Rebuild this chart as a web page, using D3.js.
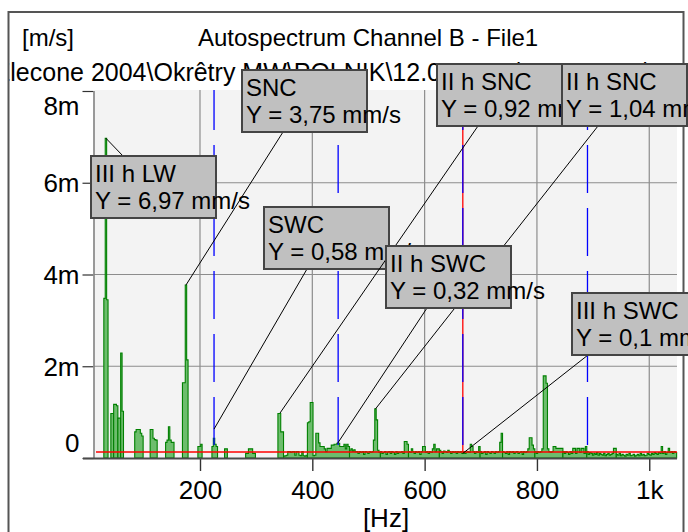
<!DOCTYPE html>
<html>
<head>
<meta charset="utf-8">
<script src="https://cdn.jsdelivr.net/npm/d3@7"></script>
<style>
  body { margin: 0; background: #fff; }
  text { font-family: "Liberation Sans", Arial, sans-serif; fill: #000; }
</style>
</head>
<body>
<div class="container"></div>
<script>
// axis ticks
const yTicks = [0, 2, 4, 6, 8];
const yTickLabels = ['0', '2m', '4m', '6m', '8m'];
const xTicks = [200, 400, 600, 800, 1000];
const xTickLabels = ['200', '400', '600', '800', '1k'];

// spectrum: bands of [start Hz, amplitudes in mm/s on a 2.5 Hz grid]
const binWidth = 2.5;
const bands = [
  [30, [3.48, 6.97, 3.45]],
  [42.5, [0.97, 0.97]],
  [47.5, [1.17, 1.17, 1.14]],
  [55, [0.87, 0.87]],
  [60, [2.29, 1.02]],
  [85, [0.57, 0.62, 0.62, 0.62, 0.54, 0.48]],
  [112.5, [0.62, 0.62, 0.43, 0.4, 0.39]],
  [140, [0.34, 0.39, 0.68, 0.39, 0.34, 0.34]],
  [170, [1.64, 1.64, 3.77, 2.14]],
  [197.5, [0.25, 0.25, 0.3]],
  [222.5, [0.25, 0.43, 0.3, 0.25]],
  [245, [0.2, 0.2]],
  [282.5, [0.1, 0.1, 0.2, 0.2, 0.2, 0.1, 0.1]],
  [340, [0.97, 0.97, 0.57, 0.57]],
  [350, [.04, .05, .06, .14, .14, .12, .14, .14, .06, .14, .14, .06, .05, .14, .05, .04, .06]],
  [392.5, [.77, .79, 1.21, 1.21, .05, .06, .54, .54, .33, .25, .25, .25, .2, .14, .21, .21, .21, .28, .28, .3, .3, .32, .32, .25, .25, .25, .3, .2, .3, .25]],
  [467.5, [.17, .2, .15, .18, .14, .14, .1, .14, .12, .14, .08, .14, .13, .1, .14, .12, .14, .39, 1.07, .83, .17, .12]],
  [522.5, [.14, .1, .12, .14, .08, .13, .14, .1, .14, .12, .08, .14, .1, .13, .12, .14, .1, .36, .36, .3]],
  [572.5, [.14, .12, .2, .14, .1, .14, .12, .14, .08, .14, .25, .25, .12, .14, .1, .14, .12, .2, .3, .14, .2, .2]],
  [627.5, [.17, .14, .1, .15, .14, .12, .17, .14, .1, .14, .12, .14, .1, .14, .12, .14, .1, .14, .1, .13, .14, .12, .3, .25, .14, .1, .14, .12, .25]],
  [700, [.14, .1, .12, .14, .08, .14, .12, .1, .14, .13, .1, .14, .12, .14, .34, .54]],
  [740, [.14, .12, .1, .14, .08, .14, .12, .14, .1, .13, .14, .1, .12, .14, .08, .14, .12, .14, .2, .44, .44, .28, .2]],
  [797.5, [.14, .1, .14, .12, .14, .2, 1.79, 1.79, 1.63, .2, .14, .12, .14, .25, .25, .21, .21, .21, .21, .21]],
  [847.5, [.14, .1, .14, .12, .08, .14, .1, .21, .21, .1, .21, .21, .12, .21, .21, .1, .25]],
  [890, [.14, .08, .12, .1, .06, .1, .08, .12, .06, .1, .08, .06, .1, .05, .08, .1, .06, .08, .1, .21, .21]],
  [942.5, [.08, .06, .1, .05, .08, .06, .04, .08, .06, .1, .05, .06, .08, .04, .06, .08, .05, .1, .06, .08, .05, .06, .1, .08, .06, .1, .08, .12, .1, .08, .12, .1, .25, .1, .14, .08, .12, .21, .12, .14, .1, .14, .12]]
];

const threshold = 0.13;
const cursorHz = [225, 446, 668, 890];
const markedCursor = 668;

// peak annotations
const noteNames = ['III h LW', 'SNC', 'SWC', 'II h SNC', 'II h SNC', 'II h SWC', 'III h SWC'];
const noteValues = ['6,97', '3,75', '0,58', '0,92', '1,04', '0,32', '0,1'];
const noteHz = [32.5, 175, 225, 342.5, 512.5, 445, 668];
const noteAmp = [6.97, 3.77, 0.63, 0.98, 1.07, 0.32, 0.1];

const renderSpectrum = () => {
  const width = 688;
  const height = 532;
  const plot = { left: 94, right: 677, top: 90, bottom: 458 };

  const svg = d3.select('.container').append('svg').attr('width', width).attr('height', height);

  // frame + header
  svg.append('rect').attr('x', 8.5).attr('y', 12).attr('width', 675).attr('height', 530)
    .attr('fill', 'none').attr('stroke', '#555').attr('stroke-width', 2);

  svg.append('clipPath').attr('id', 'frame-clip')
    .append('rect').attr('x', 9.5).attr('y', 13).attr('width', 672).attr('height', 520);

  svg.append('text').text('[m/s]').attr('x', 22).attr('y', 46).attr('font-size', 24);
  svg.append('text').text('Autospectrum Channel B - File1').attr('x', 198).attr('y', 46).attr('font-size', 24);
  svg.append('text').text('Zlecone 2004\\Okrêtry MW\\POLNIK\\12.04.2004\\KOREKTY\\ELEKTR')
    .attr('x', -5).attr('y', 81).attr('font-size', 25).attr('clip-path', 'url(#frame-clip)');

  const xScale = d3.scaleLinear().domain([11.25, 1049.4]).range([plot.left, plot.right]);
  const yScale = d3.scaleLinear().domain([0, 8]).range([plot.bottom, 91]);

  svg.append('rect').attr('x', plot.left).attr('y', plot.top)
    .attr('width', plot.right - plot.left).attr('height', plot.bottom - plot.top).attr('fill', '#f3f3f3');

  // grid
  const grid = svg.append('g').attr('class', 'grid').attr('stroke', '#8c8c8c').attr('stroke-width', 1.2);
  grid.selectAll('.vx').data(xTicks).enter().append('line')
    .attr('x1', d => xScale(d)).attr('x2', d => xScale(d)).attr('y1', plot.top).attr('y2', plot.bottom);
  grid.selectAll('.hy').data(yTicks.slice(1, -1)).enter().append('line')
    .attr('x1', plot.left).attr('x2', plot.right).attr('y1', d => yScale(d)).attr('y2', d => yScale(d));

  // spectrum bars
  const area = d3.area().curve(d3.curveStepAfter)
    .x(d => xScale(d[0])).y0(yScale(0)).y1(d => yScale(d[1]));
  const bars = svg.append('g').attr('class', 'spectrum');
  bands.forEach(([start, amps]) => {
    const pts = amps.map((a, i) => [start + i * binWidth - binWidth / 2, a]);
    pts.push([start + (amps.length - 1) * binWidth + binWidth / 2, amps[amps.length - 1]]);
    bars.append('path').attr('d', area(pts))
      .attr('fill', '#6dbd6d').attr('stroke', '#008000').attr('stroke-width', 1.1);
  });

  // threshold
  svg.append('line').attr('x1', 96).attr('x2', plot.right)
    .attr('y1', yScale(threshold)).attr('y2', yScale(threshold))
    .attr('stroke', '#ff0000').attr('stroke-width', 1.5);

  // harmonic cursors
  const cursors = svg.append('g').attr('class', 'cursors');
  cursors.selectAll('.red').data(cursorHz.filter(d => d === markedCursor)).enter().append('line')
    .attr('x1', d => xScale(d)).attr('x2', d => xScale(d))
    .attr('y1', yScale(threshold)).attr('y2', plot.top)
    .attr('stroke', '#ff0000').attr('stroke-width', 1.3);
  cursors.selectAll('.blue').data(cursorHz).enter().append('line')
    .attr('x1', d => xScale(d)).attr('x2', d => xScale(d))
    .attr('y1', 445).attr('y2', plot.top)
    .attr('stroke', '#0000ff').attr('stroke-width', 1.3).attr('stroke-dasharray', '48,15');

  // axes
  const leftAxis = d3.axisLeft(yScale).tickValues(yTicks).tickFormat((d, i) => yTickLabels[i])
    .tickSize(11).tickPadding(3);
  const leftG = svg.append('g').attr('transform', `translate(${plot.left - 0.5},0)`).call(leftAxis);
  leftG.select('.domain').remove();
  leftG.selectAll('.tick line').attr('stroke', '#333').attr('stroke-width', 1.2);
  leftG.selectAll('.tick text').attr('font-size', 26).attr('font-family', '"Liberation Sans", Arial, sans-serif')
    .attr('fill', '#000')
    .attr('dy', d => (d === 0 ? '-0.25em' : d === 8 ? '0.9em' : '0.35em'));

  const bottomAxis = d3.axisBottom(xScale).tickValues(xTicks).tickFormat((d, i) => xTickLabels[i])
    .tickSize(13).tickPadding(10);
  const bottomG = svg.append('g').attr('transform', `translate(0,${plot.bottom})`).call(bottomAxis);
  bottomG.select('.domain').remove();
  bottomG.selectAll('.tick line').attr('stroke', '#333').attr('stroke-width', 1.4);
  bottomG.selectAll('.tick text').attr('font-size', 26).attr('font-family', '"Liberation Sans", Arial, sans-serif')
    .attr('fill', '#000');

  svg.append('line').attr('x1', plot.left).attr('x2', plot.left).attr('y1', 91).attr('y2', plot.bottom)
    .attr('stroke', '#808080').attr('stroke-width', 1.6);
  svg.append('line').attr('x1', 83).attr('x2', plot.right).attr('y1', plot.bottom + 0.5).attr('y2', plot.bottom + 0.5)
    .attr('stroke', '#4a4a4a').attr('stroke-width', 2);

  svg.append('text').text('[Hz]').attr('x', 386).attr('y', 527)
    .attr('text-anchor', 'middle').attr('font-size', 26);

  // annotation boxes: x, y, leader anchor dx, dy
  const boxLayout = [
    [91, 156, 32, 0],
    [242, 70, 41, 62],
    [264, 207, 43, 62],
    [437, 64, 41, 62],
    [562, 64, 36, 62],
    [386, 246, 41, 62],
    [572, 293, 16, 62]
  ];
  const boxW = 125;
  const boxH = 62;

  noteNames.forEach((name, i) => {
    const [bx, by, ax, ay] = boxLayout[i];
    const g = svg.append('g').attr('class', 'note');
    g.append('line')
      .attr('x1', xScale(noteHz[i])).attr('y1', yScale(noteAmp[i]))
      .attr('x2', bx + ax).attr('y2', by + ay)
      .attr('stroke', '#000').attr('stroke-width', 1);
    g.append('rect').attr('x', bx).attr('y', by).attr('width', boxW).attr('height', boxH)
      .attr('fill', '#c0c0c0').attr('stroke', '#444').attr('stroke-width', 2);
    g.append('text').text(name).attr('x', bx + 4).attr('y', by + 26).attr('font-size', 24);
    g.append('text').text(`Y = ${noteValues[i]} mm/s`).attr('x', bx + 4).attr('y', by + 53).attr('font-size', 24);
  });
};

renderSpectrum();
</script>
</body>
</html>
